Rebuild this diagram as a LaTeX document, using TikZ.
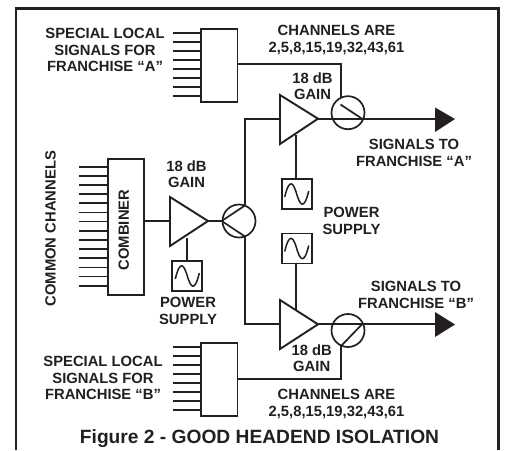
\documentclass[tikz,border=0pt]{standalone}
\usepackage{fontspec}
\setmainfont{Liberation Sans}
\definecolor{ink}{HTML}{231F20}
\tikzset{
  wire/.style={draw=ink,line width=1.7pt},
  frameline/.style={draw=ink,line width=2.8pt},
  boxed/.style={draw=ink,line width=1.9pt,fill=white},
  lab/.style={text=ink,font=\bfseries\fontsize{14.8}{16.3}\selectfont,align=center,inner sep=0pt},
  figcap/.style={text=ink,font=\bfseries\fontsize{19.2}{20}\selectfont,inner sep=0pt},
  tipfill/.style={fill=ink,draw=none}
}
\newcommand{\sinewave}[2]{% center x,y
  \draw[ink,line width=1.5pt] (#1-12,#2+3) .. controls (#1-7,#2-18) and (#1-3,#2-10) .. (#1,#2) .. controls (#1+3,#2+10) and (#1+7,#2+18) .. (#1+12,#2-3);
}
\begin{document}
\begin{tikzpicture}[x=1pt,y=-1pt]
\useasboundingbox (0,0) rectangle (505,450);
% frame
\draw[frameline] (16,450) -- (16,8.5) -- (498.5,8.5) -- (498.5,450);
% box A inputs
\foreach \y in {32.7,41.8,50.9,60,69,78.1,87.2,96.3} \draw[wire] (173,\y) -- (200,\y);
\foreach \y in {346.7,355.8,364.9,374,383,392.1,401.2,410.3} \draw[wire] (173,\y) -- (200,\y);
\foreach \k in {0,...,13} \draw[wire] (79,166.7+9.15*\k) -- (107,166.7+9.15*\k);
% boxes
\node[boxed,minimum width=36.5pt,minimum height=73pt,inner sep=0pt,anchor=north west] (boxA) at (200,28) {};
\node[boxed,minimum width=36.5pt,minimum height=73pt,inner sep=0pt,anchor=north west] (boxB) at (200,342) {};
\node[boxed,minimum width=36.5pt,minimum height=136pt,inner sep=0pt,anchor=north west] (comb) at (106.7,158) {};
\node[lab,rotate=90] (combt) at (123.8,230) {COMBINER};
% circles
\node[wire,circle,minimum size=33pt,inner sep=0pt] (cC) at (239,221) {};
\node[wire,circle,minimum size=33pt,inner sep=0pt] (cA) at (348,112.7) {};
\node[wire,circle,minimum size=33pt,inner sep=0pt] (cB) at (348,330.5) {};
% wires
\coordinate (tipC) at (208,221);
\coordinate (tipA) at (318,118.7);
\coordinate (tipB) at (318,324.3);
\coordinate (endA) at (436,118.7);
\coordinate (endB) at (436,324.3);
\draw[wire] (comb.east |- tipC) -- (170,221);
\draw[wire] (tipC) -- (cC.west);
\draw[wire] (cC.west) -- (245,205.5);
\draw[wire] (cC.west) -- (245,236.5);
\draw[wire] (245,205.5) -- (245,118.7) -- (280,118.7);
\draw[wire] (245,236.5) -- (245,324.3) -- (280,324.3);
\draw[wire] (tipA) -- (endA);
\draw[wire] (tipB) -- (endB);
\draw[wire] (boxA.east |- 0,64.3) -- (341,64.3) -- (341,98);
\draw[wire] (boxB.east |- 0,378.7) -- (341,378.7) -- (341,346);
\draw[wire] (340.5,104.5) -- (362,118.7);
\draw[wire] (341,346) -- (362,324.3);
% amps
\draw[boxed] (170,197) -- (208,221) -- (170,246) -- cycle;
\draw[boxed] (280,95) -- (318,118.7) -- (280,144) -- cycle;
\draw[boxed] (280,300) -- (318,324.3) -- (280,349) -- cycle;
% arrows
\fill[tipfill] (435,107.5) -- (455,119) -- (435,132) -- cycle;
\fill[tipfill] (435,312) -- (455,324.5) -- (435,337) -- cycle;
% power supplies
\draw[wire] (187,238) -- (187,260);
\draw[wire] (295.7,135) -- (295.7,178);
\draw[wire] (295.7,264) -- (295.7,310);
\node[boxed,minimum size=30pt,inner sep=0pt] (psC) at (187.3,276) {};
\node[boxed,minimum size=30pt,inner sep=0pt] (psA) at (296.7,194) {};
\node[boxed,minimum size=30pt,inner sep=0pt] (psB) at (296.7,248.5) {};
\sinewave{187.3}{276}
\sinewave{296.7}{194}
\sinewave{296.7}{248.5}
% labels
\node[lab] (t1) at (105,50) {SPECIAL LOCAL\\SIGNALS FOR\\FRANCHISE “A”};
\node[lab] (t2) at (103,378) {SPECIAL LOCAL\\SIGNALS FOR\\FRANCHISE “B”};
\node[lab] (t3) at (336.5,40) {CHANNELS ARE\\2,5,8,15,19,32,43,61};
\node[lab] (t4) at (336.5,404) {CHANNELS ARE\\2,5,8,15,19,32,43,61};
\node[lab] (t5) at (186.5,174) {18 dB\\GAIN};
\node[lab] (t6) at (312.5,86) {18 dB\\GAIN};
\node[lab] (t7) at (311.7,358) {18 dB\\GAIN};
\node[lab] (t8) at (414,153) {SIGNALS TO\\FRANCHISE “A”};
\node[lab] (t9) at (416,295) {SIGNALS TO\\FRANCHISE “B”};
\node[lab] (t10) at (351.5,221) {POWER\\SUPPLY};
\node[lab] (t11) at (188,311) {POWER\\SUPPLY};
\node[lab,rotate=90] (t12) at (50.5,228.7) {COMMON CHANNELS};
\node[figcap] (t13) at (259.5,439) {Figure 2 - GOOD HEADEND ISOLATION};
\end{tikzpicture}
\end{document}
